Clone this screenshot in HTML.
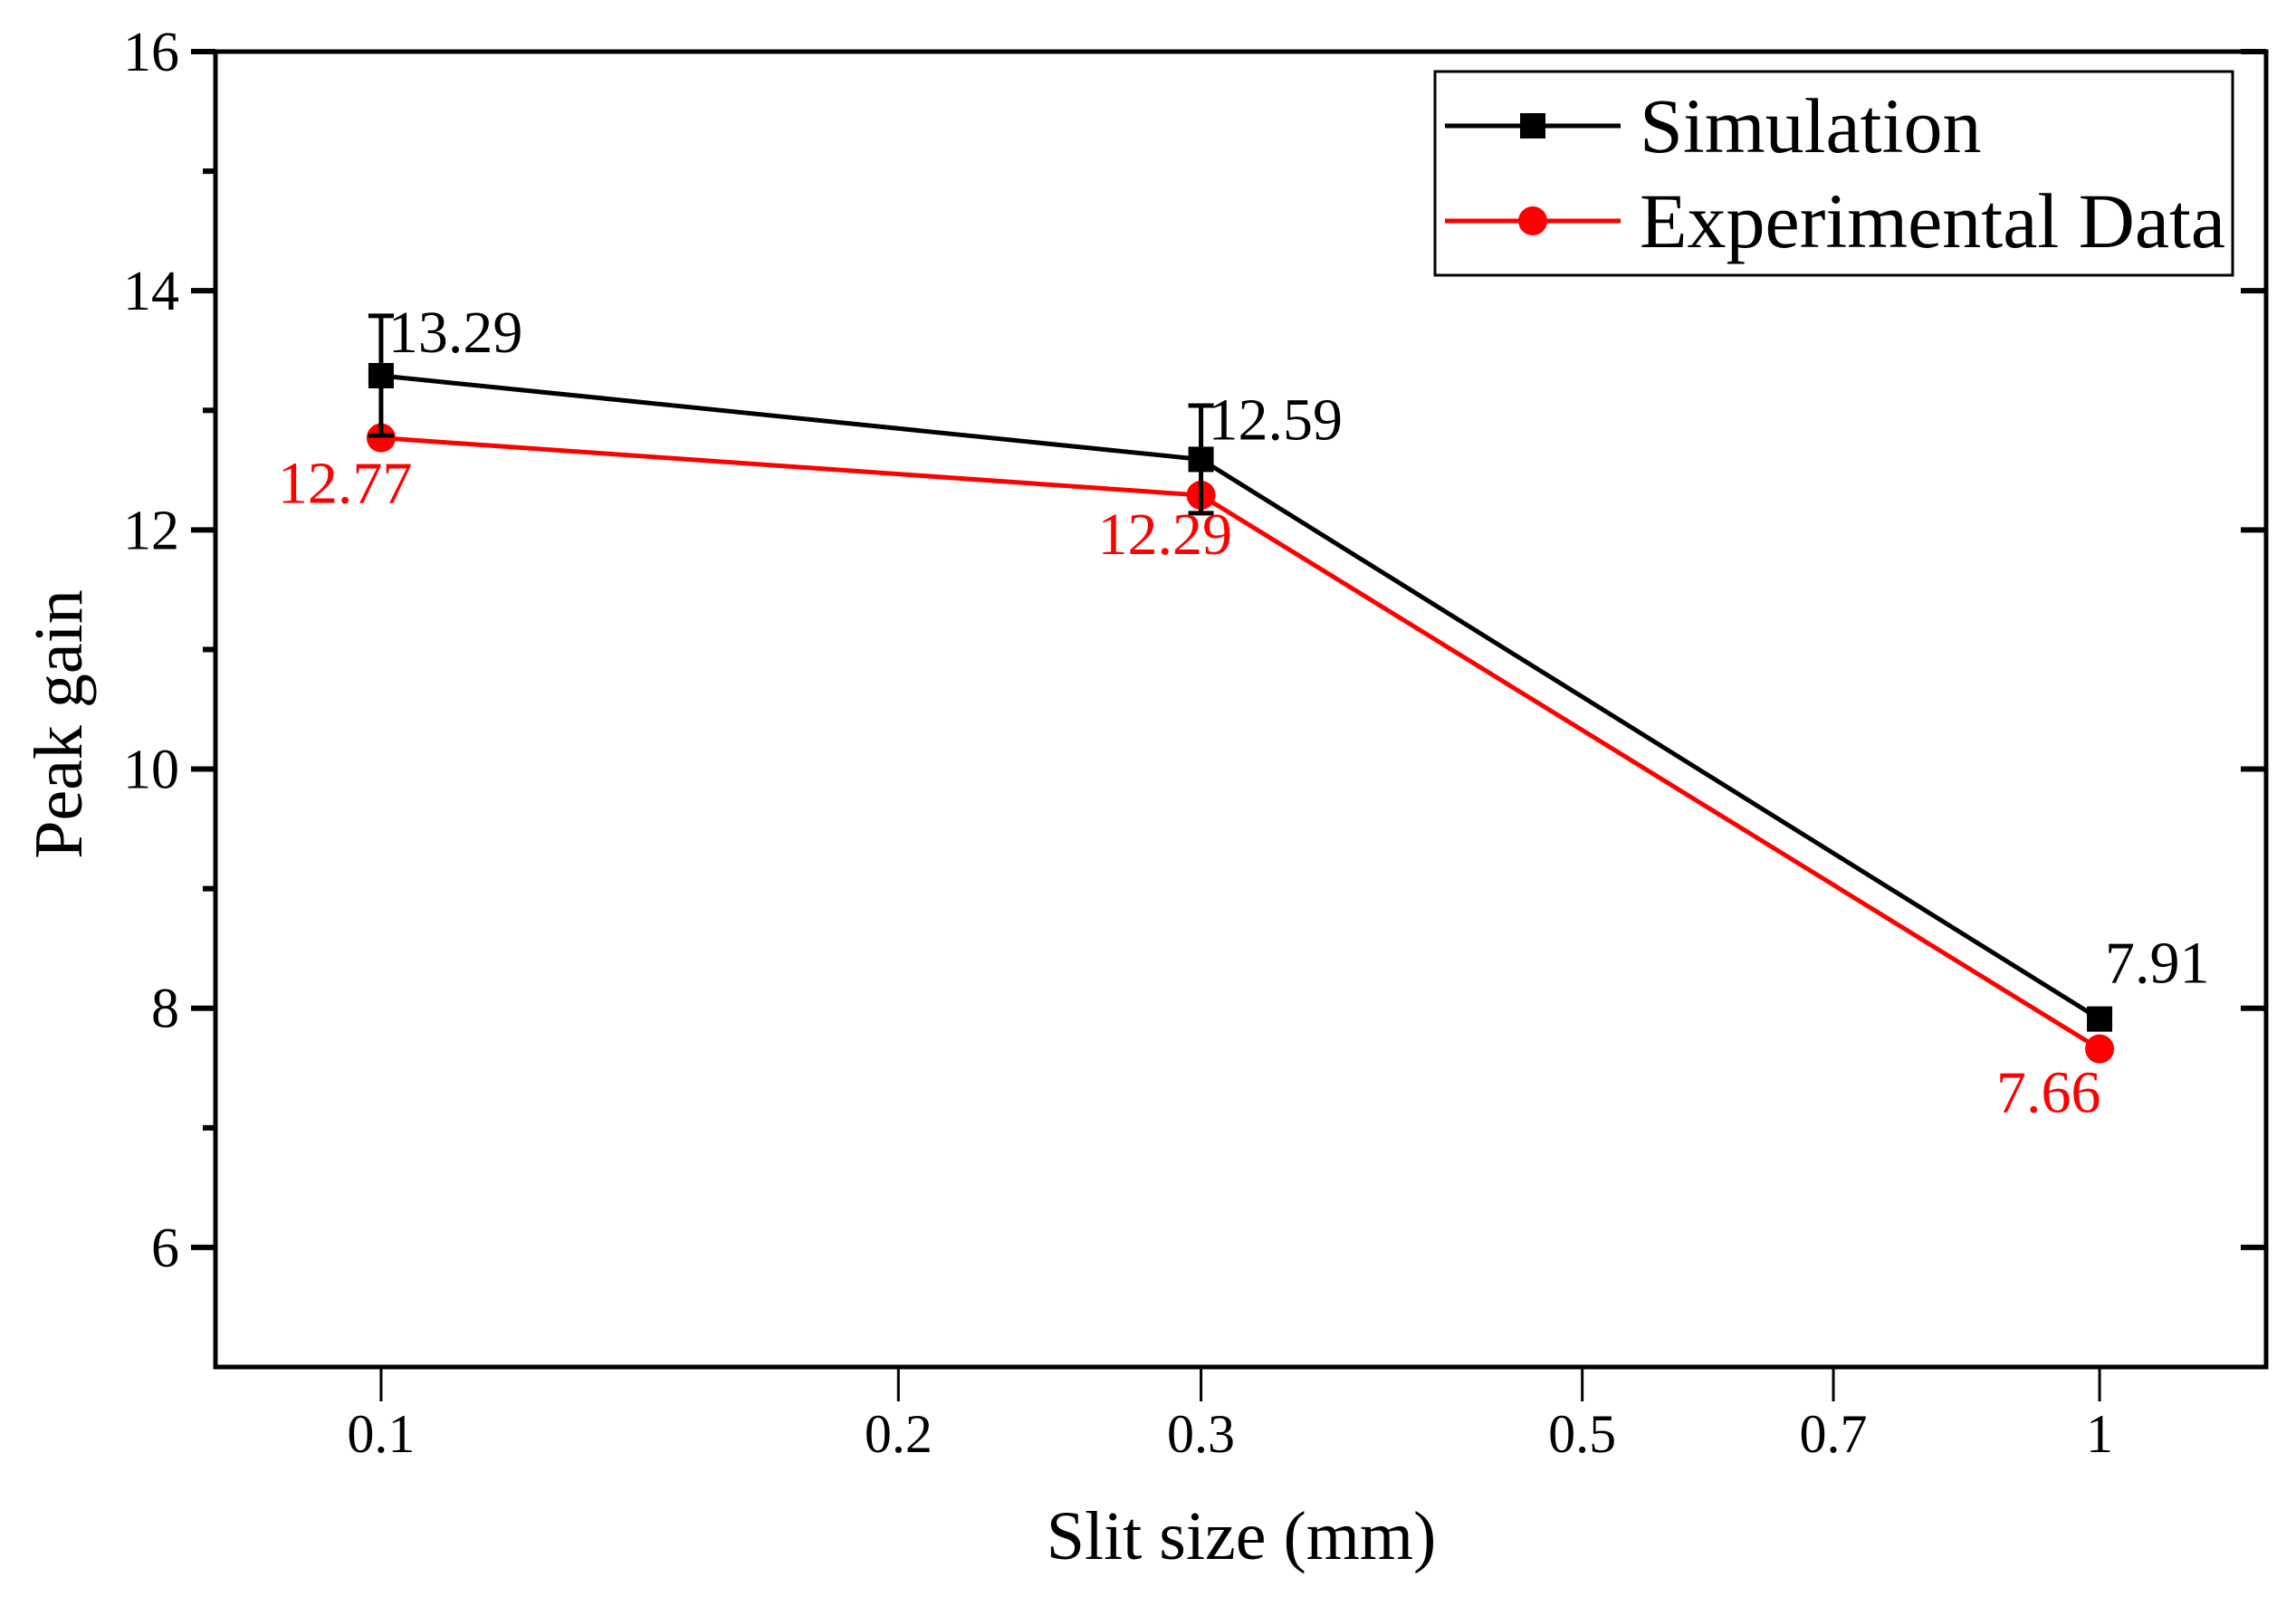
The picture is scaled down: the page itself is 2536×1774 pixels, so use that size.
<!DOCTYPE html>
<html><head><meta charset="utf-8"><style>
html,body{margin:0;padding:0;background:#fff;}
svg{display:block;font-family:"Liberation Serif",serif;}
</style></head><body>
<svg id="chart" width="2536" height="1774" viewBox="0 0 2536 1774" xmlns="http://www.w3.org/2000/svg">
<rect width="2536" height="1774" fill="#fff"/>
<g id="axes"></g>
<g id="marks"></g>
<g id="legend">
  <rect x="1585" y="79" width="881" height="225" fill="#fff" stroke="#000" stroke-width="3"/>
  <line x1="1596" y1="139" x2="1790" y2="139" stroke="#000" stroke-width="5"/>
  <rect x="1679" y="125" width="28" height="28" fill="#000"/>
  <text x="1811" y="168" font-size="86">Simulation</text>
  <line x1="1596" y1="244" x2="1790" y2="244" stroke="#f00" stroke-width="5"/>
  <circle cx="1693" cy="244" r="16" fill="#f00"/>
  <text x="1811" y="273" font-size="86">Experimental Data</text>
</g>
</svg>
<script>
const categories = [0.1, 0.3, 1];
const simValues = [13.29, 12.59, 7.91];
const simErrors = [0.5, 0.45, 0.05];
const expValues = [12.77, 12.29, 7.66];
const simLabels = ["13.29", "12.59", "7.91"];
const expLabels = ["12.77", "12.29", "7.66"];
const xTicks = [0.1, 0.2, 0.3, 0.5, 0.7, 1];
const xTickLabels = ["0.1", "0.2", "0.3", "0.5", "0.7", "1"];
const yTicks = [6, 8, 10, 12, 14, 16];
const yMinorTicks = [7, 9, 11, 13, 15];

const L = 238, R = 2503, T = 57, B = 1510;
const xMin = 0.0801, xMax = 1.25, yMin = 5, yMax = 16;
function xs(v){ return L + (Math.log10(v) - Math.log10(xMin)) / (Math.log10(xMax) - Math.log10(xMin)) * (R - L); }
function ys(v){ return B - (v - yMin) / (yMax - yMin) * (B - T); }

const NS = "http://www.w3.org/2000/svg";
function mk(tag, attrs, parent, txt){
  const e = document.createElementNS(NS, tag);
  for (const k in attrs) e.setAttribute(k, attrs[k]);
  if (txt !== undefined) e.textContent = txt;
  parent.appendChild(e);
  return e;
}
const axes = document.getElementById('axes');
const marks = document.getElementById('marks');

let el = mk('rect', {x:L, y:T, width:R-L, height:B-T, fill:'none', stroke:'#000', 'stroke-width':5}, axes);



yTicks.forEach(v => {
  const y = ys(v);
  let t = mk('line', {x1:L-27, y1:y, x2:L, y2:y, stroke:'#000', 'stroke-width':6}, axes);
  
  
  let t2 = mk('line', {x1:R-28, y1:y, x2:R, y2:y, stroke:'#000', 'stroke-width':6}, axes);
  
  
  let lb = mk('text', {x:L-40, y:y+21, 'font-size':62, 'text-anchor':'end'}, axes, String(v));
  
  
});
yMinorTicks.forEach(v => {
  const y = ys(v);
  let t = mk('line', {x1:L-14, y1:y, x2:L, y2:y, stroke:'#000', 'stroke-width':6}, axes);
  
  
});
xTicks.forEach((v, i) => {
  const x = xs(v);
  let t = mk('line', {x1:x, y1:B, x2:x, y2:B+38, stroke:'#000', 'stroke-width':3}, axes);
  
  
  let lb = mk('text', {x:x, y:1604, 'font-size':60, 'text-anchor':'middle'}, axes, xTickLabels[i]);
  
  
});
let xt = mk('text', {x:1371, y:1722, 'font-size':76, 'text-anchor':'middle'}, axes, 'Slit size (mm)');


let yt = mk('text', {x:0, y:0, 'font-size':76, 'text-anchor':'middle', transform:'translate(90,800) rotate(-90)'}, axes, 'Peak gain');



// lines
const simPts = categories.map((c,i)=>xs(c)+','+ys(simValues[i])).join(' ');
const expPts = categories.map((c,i)=>xs(c)+','+ys(expValues[i])).join(' ');
let el2 = mk('polyline', {points:expPts, fill:'none', stroke:'#f00', 'stroke-width':5}, marks);


let el1 = mk('polyline', {points:simPts, fill:'none', stroke:'#000', 'stroke-width':5}, marks);



categories.forEach((c, i) => {
  const x = xs(c);
  let p = mk('circle', {cx:x, cy:ys(expValues[i]), r:16, fill:'#f00'}, marks);
  
  
});
categories.forEach((c, i) => {
  const x = xs(c), yt = ys(simValues[i] + simErrors[i]), yb = ys(simValues[i] - simErrors[i]);
  let e = mk('path', {d:`M${x},${yt}V${yb}M${x-14},${yt}H${x+14}M${x-14},${yb}H${x+14}`, stroke:'#000', 'stroke-width':5, fill:'none'}, marks);
  
  
  let s = mk('rect', {x:x-14, y:ys(simValues[i])-14, width:28, height:28, fill:'#000'}, marks);
  
  
});
// value labels
const simLabelOff = [[8,-26],[8,-22],[6,-40]];
const expLabelOff = [[-114,72],[-114,65],[-114,70]];
categories.forEach((c, i) => {
  const x = xs(c);
  let a = mk('text', {x:x+simLabelOff[i][0], y:ys(simValues[i])+simLabelOff[i][1], 'font-size':66, fill:'#000'}, marks, simLabels[i]);
  
  
  let b = mk('text', {x:x+expLabelOff[i][0], y:ys(expValues[i])+expLabelOff[i][1], 'font-size':66, fill:'#f00'}, marks, expLabels[i]);
  
  
});
</script>
</body></html>
